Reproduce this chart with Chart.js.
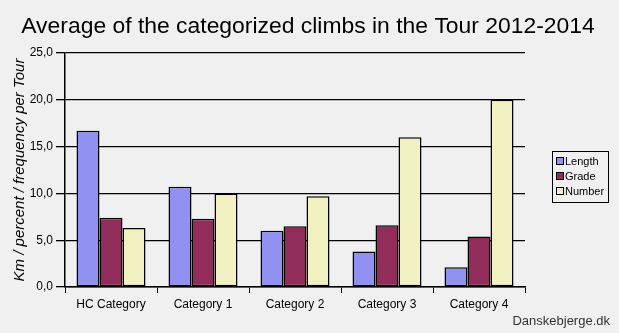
<!DOCTYPE html>
<html>
<head>
    <title>Categorized climbs in the Tour 2012-2014</title>
    <script src="https://cdn.jsdelivr.net/npm/chart.js"></script>
    <style>
        html, body {
            margin: 0;
            padding: 0;
            background-color: #f0f0f0;
            overflow: hidden;
        }
        canvas { display: block; }
    </style>
</head>
<body>
    <canvas id="climbChart" width="619" height="333"></canvas>

    <script>
        const categories = ['HC Category', 'Category 1', 'Category 2', 'Category 3', 'Category 4'];
        const lengthKm = [16.7, 10.7, 6.0, 3.8, 2.1];
        const gradePct = [7.4, 7.3, 6.5, 6.6, 5.4];
        const climbCount = [6.3, 10.0, 9.7, 16.0, 20.0];
        const seriesNames = ['Length', 'Grade', 'Number'];
        const seriesColors = ['#9191f2', '#922c5b', '#f1f0c0'];
        const chartTitle = 'Average of the categorized climbs in the Tour 2012-2014';

        const font = 'Liberation Sans, Arial, sans-serif';

        // title over the whole canvas, legend box on the right, site name at the bottom
        const extras = {
            id: 'extras',
            afterDraw(chart) {
                const c = chart.ctx;
                c.save();
                c.fillStyle = '#000';
                c.font = '22.9px ' + font;
                c.textAlign = 'center';
                c.textBaseline = 'alphabetic';
                c.fillText(chartTitle, 308, 33);

                const lx = 552, ly = 151, lw = 56, lh = 51;
                c.textAlign = 'left';
                c.strokeStyle = '#000';
                c.lineWidth = 1;
                c.strokeRect(lx + 0.5, ly + 0.5, lw, lh);
                c.font = '11px ' + font;
                c.textBaseline = 'middle';
                chart.data.datasets.forEach((ds, i) => {
                    const y = ly + 10 + i * 15;
                    c.fillStyle = ds.backgroundColor;
                    c.fillRect(lx + 5, y - 3, 6, 6);
                    c.strokeRect(lx + 4.5, y - 3.5, 7, 7);
                    c.fillStyle = '#000';
                    c.fillText(ds.label, lx + 13, y + 1);
                });
                c.font = '13px ' + font;
                c.fillStyle = '#333';
                c.textAlign = 'right';
                c.fillText('Danskebjerge.dk', 610, 321);
                c.restore();
            }
        };

        new Chart(document.getElementById('climbChart'), {
            type: 'bar',
            data: {
                labels: categories,
                datasets: [lengthKm, gradePct, climbCount].map((vals, i) => ({
                    label: seriesNames[i],
                    data: vals,
                    backgroundColor: seriesColors[i],
                    borderColor: '#000',
                    borderWidth: 1.5,
                    borderSkipped: false,
                    categoryPercentage: 0.75,
                    barPercentage: 1.0
                }))
            },
            options: {
                responsive: false,
                animation: false,
                devicePixelRatio: 1,
                layout: { padding: { left: 0, right: 94, top: 53, bottom: 0 } },
                plugins: {
                    legend: { display: false },
                    tooltip: { enabled: false },
                    title: { display: false }
                },
                scales: {
                    x: {
                        afterFit(scale) { scale.height = 46; },
                        grid: {
                            offset: true,
                            drawOnChartArea: false,
                            color: '#000',
                            tickLength: 6,
                            tickColor: '#000'
                        },
                        border: { color: '#000', width: 1.5 },
                        ticks: {
                            color: '#000',
                            padding: 4,
                            maxRotation: 0,
                            font: { family: font, size: 12 }
                        }
                    },
                    y: {
                        min: 0,
                        max: 25,
                        afterFit(scale) { scale.width = 65; },
                        grid: {
                            color: '#000',
                            lineWidth: 1.3,
                            tickLength: 9,
                            tickColor: '#000'
                        },
                        border: { color: '#000', width: 1.5 },
                        ticks: {
                            stepSize: 5,
                            color: '#000',
                            padding: 3,
                            font: { family: font, size: 12 },
                            callback: v => v.toFixed(1).replace('.', ',')
                        },
                        title: {
                            display: true,
                            text: 'Km / percent / frequency per Tour',
                            color: '#000',
                            font: { family: font, size: 15, style: 'italic' },
                            padding: { top: 11, bottom: 0 }
                        }
                    }
                }
            },
            plugins: [extras]
        });
    </script>
</body>
</html>
